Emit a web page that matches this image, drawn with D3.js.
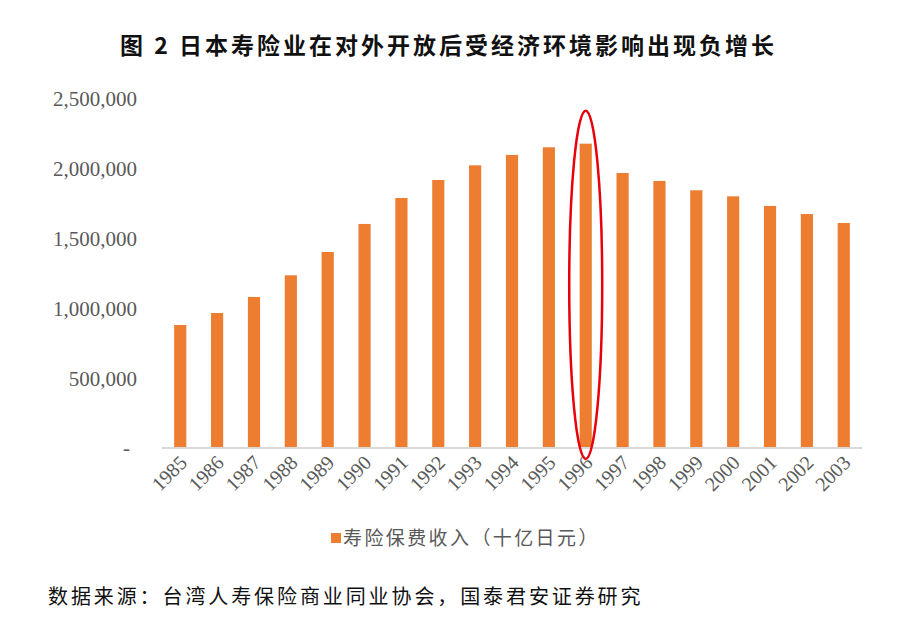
<!DOCTYPE html>
<html>
<head>
<meta charset="utf-8">
<script src="https://cdn.jsdelivr.net/npm/d3@7"></script>
<style>
  body { margin: 0; background: #fff; }
  .cjk { font-family: "Noto Sans CJK SC", sans-serif; }
  .num { font-family: "Liberation Serif", "Times New Roman", serif; fill: #595959; }
</style>
</head>
<body>
<svg id="chart" width="906" height="631"></svg>
<script>
var years = ["1985","1986","1987","1988","1989","1990","1991","1992","1993","1994",
             "1995","1996","1997","1998","1999","2000","2001","2002","2003"];
var premiums = [881000, 967000, 1082000, 1237000, 1404000, 1605000, 1791000, 1920000, 2025000, 2099000,
                2154000, 2180000, 1970000, 1913000, 1846000, 1803000, 1734000, 1676000, 1612000];
var yTicks = [0, 500000, 1000000, 1500000, 2000000, 2500000];
var seriesName = "寿险保费收入（十亿日元）";
var highlightYear = "1996";

var svg = d3.select("#chart"),
    margin = {top: 99, right: 44, bottom: 183, left: 162},
    width = +svg.attr("width") - margin.left - margin.right,
    height = +svg.attr("height") - margin.top - margin.bottom;

var x = d3.scaleBand().domain(years).range([0, width]).paddingInner(0.67).paddingOuter(0.33),
    y = d3.scaleLinear().domain([0, 2500000]).range([height, 0]);

var g = svg.append("g").attr("transform", "translate(" + margin.left + "," + margin.top + ")");

// title
svg.append("text")
  .attr("class", "cjk")
  .attr("x", 120).attr("y", 54)
  .style("font-size", "23px").style("font-weight", "bold")
  .style("letter-spacing", "3px").style("white-space", "pre")
  .attr("fill", "#111")
  .text("图 2 日本寿险业在对外开放后受经济环境影响出现负增长");

// y axis labels
var fmt = d3.format(",");
g.selectAll(".ylab")
  .data(yTicks)
  .enter().append("text")
  .attr("class", "num")
  .attr("x", function(d) { return d === 0 ? -32 : -25; })
  .attr("y", function(d) { return y(d); })
  .attr("dy", "0.35em")
  .attr("text-anchor", "end")
  .style("font-size", "21px")
  .text(function(d) { return d === 0 ? "-" : fmt(d); });

// bars
g.selectAll(".bar")
  .data(premiums)
  .enter().append("rect")
  .attr("class", "bar")
  .attr("x", function(d, i) { return x(years[i]); })
  .attr("y", function(d) { return y(d); })
  .attr("width", x.bandwidth())
  .attr("height", function(d) { return height - y(d); })
  .attr("fill", "#ed7d31");

// x axis line
g.append("line")
  .attr("x1", 0).attr("x2", width)
  .attr("y1", height).attr("y2", height)
  .attr("stroke", "#d9d9d9").attr("stroke-width", 2);

// x labels
g.selectAll(".xlab")
  .data(years)
  .enter().append("text")
  .attr("class", "num")
  .attr("text-anchor", "end")
  .style("font-size", "20px")
  .attr("transform", function(d) {
    return "translate(" + (x(d) + x.bandwidth() / 2 + 8) + "," + (height + 16) + ") rotate(-45)";
  })
  .text(function(d) { return d; });

// highlight ellipse
var hi = premiums[years.indexOf(highlightYear)];
var hx = x(highlightYear) + x.bandwidth() / 2;
g.append("ellipse")
  .attr("cx", hx)
  .attr("cy", (y(hi) - 33 + height + 11) / 2)
  .attr("rx", 16.5)
  .attr("ry", (height + 11 - y(hi) + 33) / 2)
  .attr("fill", "none")
  .attr("stroke", "#e8000b")
  .attr("stroke-width", 2.5);

// legend
var leg = svg.append("g").attr("transform", "translate(331,538)");
leg.append("rect").attr("x", 0).attr("y", -5).attr("width", 10).attr("height", 10).attr("fill", "#ed7d31");
leg.append("text")
  .attr("class", "cjk")
  .attr("x", 12).attr("dy", "0.36em")
  .style("font-size", "19px").style("letter-spacing", "2.4px")
  .attr("fill", "#595959")
  .text(seriesName);

// source
svg.append("text")
  .attr("class", "cjk")
  .attr("x", 48).attr("y", 597).attr("dy", "0.36em")
  .style("font-size", "20px").style("letter-spacing", "2.9px")
  .attr("fill", "#111")
  .text("数据来源：台湾人寿保险商业同业协会，国泰君安证券研究");
</script>
</body>
</html>
